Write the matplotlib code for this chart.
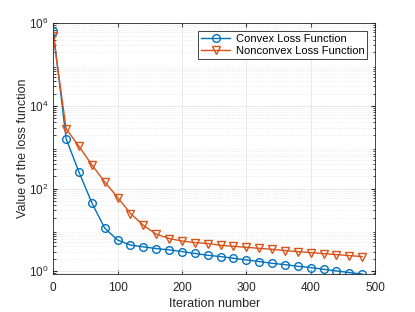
import numpy as np
import matplotlib
matplotlib.use("Agg")
import matplotlib.pyplot as plt
from matplotlib.ticker import LogLocator, NullFormatter

plt.rcParams['font.family'] = ['Liberation Sans', 'DejaVu Sans']

iterations = list(range(0, 500, 20))
convex_loss = [6.5e5, 1.6e3, 250, 45, 11, 5.7, 4.3, 3.9, 3.55, 3.3, 3.0, 2.7,
               2.44, 2.27, 2.07, 1.88, 1.72, 1.56, 1.45, 1.32, 1.23, 1.12,
               1.02, 0.93, 0.86]
nonconvex_loss = [4.9e5, 2.8e3, 1.05e3, 375, 145, 61, 25, 13, 7.9, 6.2, 5.4,
                  4.95, 4.7, 4.26, 4.03, 3.8, 3.6, 3.4, 3.17, 3.0, 2.83, 2.68,
                  2.53, 2.4, 2.27]

blue = '#0072BD'
orange = '#D95319'
fs = 8.5

fig = plt.figure(figsize=(4.15, 3.12), dpi=100)
ax = fig.add_axes([0.1284, 0.1218, 0.7752, 0.8035])

ax.semilogy(iterations, convex_loss, '-o', color=blue, lw=1.0, ms=5.5,
            mfc='none', mew=1.0, label='Convex Loss Function')
ax.semilogy(iterations, nonconvex_loss, '-v', color=orange, lw=1.0, ms=6,
            mfc='none', mew=1.0, label='Nonconvex Loss Function')

ax.set_xlim(0, 500)
ax.set_ylim(0.86, 1e6)
ax.set_xticks([0, 100, 200, 300, 400, 500])
ax.set_yticks([1e0, 1e2, 1e4, 1e6])
ax.yaxis.set_minor_locator(LogLocator(base=10, subs=np.arange(2, 10), numticks=20))
ax.yaxis.set_minor_formatter(NullFormatter())

ax.grid(True, which='major', color='#e6e6e6', lw=0.6)
ax.grid(True, which='minor', axis='y', color='#e0e0e0', lw=0.5, ls=':')
ax.set_axisbelow(True)

ax.tick_params(which='both', direction='in', top=True, right=True,
               labelsize=fs, colors='#262626')
ax.tick_params(which='major', length=3)
ax.tick_params(axis='x', which='major', pad=6)
ax.tick_params(which='minor', length=1.8)
for s in ax.spines.values():
    s.set_color('#262626')
    s.set_linewidth(0.6)

ax.set_xlabel('Iteration number', fontsize=fs + 0.5, color='#262626', labelpad=3)
ax.set_ylabel('Value of the loss function', fontsize=fs + 0.5, color='#262626',
              labelpad=0)

leg = ax.legend(loc='upper right', fontsize=8, fancybox=False,
                edgecolor='#262626', framealpha=1, borderpad=0.25,
                handlelength=2.6, handletextpad=0.5, borderaxespad=0.7,
                labelspacing=0.2)
leg.get_frame().set_linewidth(0.6)

fig.savefig('out.png', dpi=100)
